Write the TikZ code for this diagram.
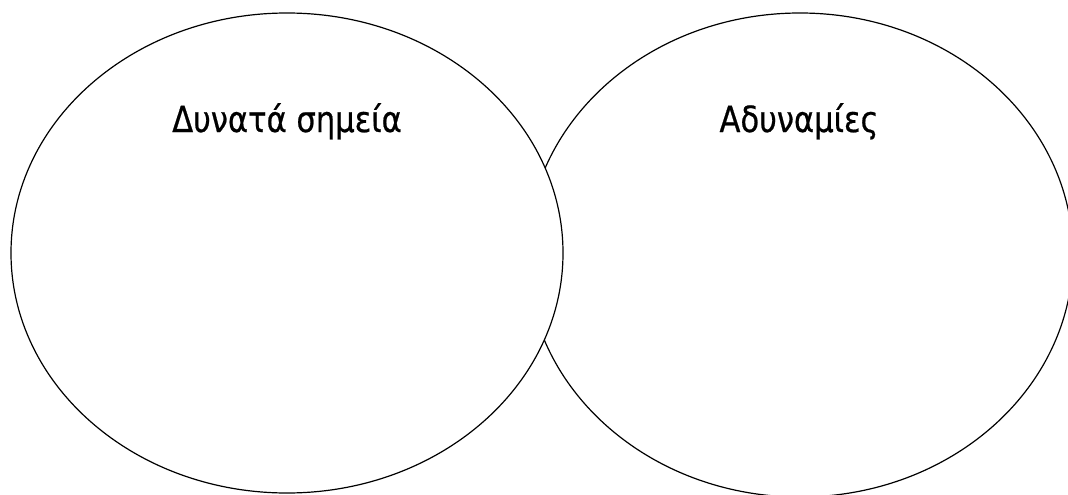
\documentclass[tikz,border=0pt]{standalone}
\usepackage{fontspec}
\usetikzlibrary{shapes.geometric}
\newfontfamily\labfont[FakeStretch=0.85,FakeBold=0.6]{DejaVu Sans}
\tikzset{
  oval/.style={ellipse, draw=black, line width=1.2pt, fill=white, inner sep=0pt},
  lab/.style={font=\labfont\fontsize{36}{42}\selectfont, anchor=base, inner sep=0pt}
}
\begin{document}
\begin{tikzpicture}[x=1pt,y=-1pt]
\useasboundingbox (0,0) rectangle (1068,495);
\clip (0,0) rectangle (1068,495);
\node[oval, minimum width=546pt, minimum height=484pt] (weak) at (800,255) {};
\node[oval, minimum width=552pt, minimum height=480pt] (strong) at (287,253) {};
\node[lab] (tstrong) at (287,132) {Δυνατά σημεία};
\node[lab] (tweak) at (799,132) {Αδυναμίες};
\end{tikzpicture}
\end{document}
